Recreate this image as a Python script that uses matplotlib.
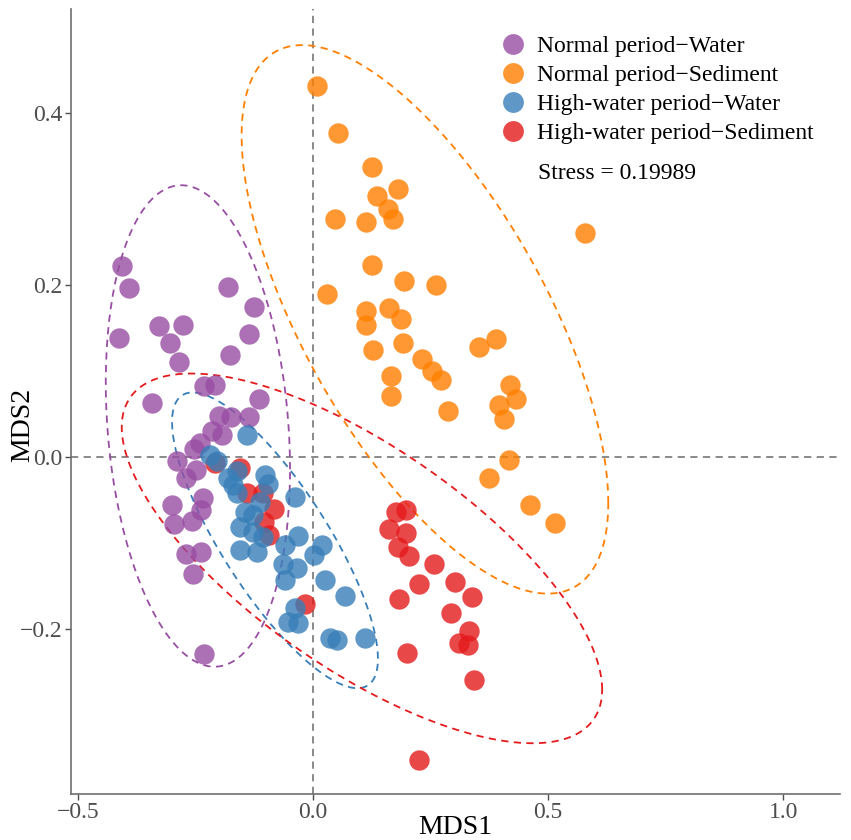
"""
NMDS ordination plot of water / sediment samples in two periods
"""

import matplotlib
matplotlib.use('Agg')
import matplotlib.pyplot as plt
from matplotlib.lines import Line2D
from matplotlib.ticker import FuncFormatter
import numpy as np

plt.rcParams['font.family'] = ['Liberation Serif', 'DejaVu Serif']

# sample scores
normal_water_x = [-0.407, -0.391, -0.181, -0.126, -0.328, -0.276, -0.304, -0.136, -0.412, -0.176,
                  -0.285, -0.233, -0.209, -0.343, -0.116, -0.201, -0.174, -0.136, -0.216, -0.193,
                  -0.240, -0.253, -0.290, -0.270, -0.249, -0.301, -0.235, -0.239, -0.295, -0.257,
                  -0.270, -0.238, -0.256, -0.233]
normal_water_y = [0.222, 0.197, 0.198, 0.174, 0.152, 0.153, 0.132, 0.143, 0.138, 0.119,
                  0.110, 0.082, 0.084, 0.063, 0.067, 0.048, 0.047, 0.047, 0.030, 0.025,
                  0.016, 0.009, -0.005, -0.024, -0.015, -0.056, -0.048, -0.062, -0.078, -0.075,
                  -0.113, -0.110, -0.136, -0.229]

normal_sed_x = [0.008, 0.053, 0.126, 0.180, 0.135, 0.159, 0.171, 0.047, 0.113, 0.579,
                0.125, 0.193, 0.262, 0.030, 0.112, 0.162, 0.187, 0.113, 0.127, 0.191,
                0.231, 0.254, 0.272, 0.165, 0.165, 0.287, 0.352, 0.389, 0.418, 0.431,
                0.395, 0.406, 0.416, 0.375, 0.462, 0.515]
normal_sed_y = [0.431, 0.377, 0.337, 0.312, 0.303, 0.288, 0.277, 0.277, 0.273, 0.261,
                0.223, 0.205, 0.200, 0.190, 0.170, 0.173, 0.161, 0.153, 0.124, 0.133,
                0.114, 0.100, 0.090, 0.094, 0.071, 0.053, 0.128, 0.137, 0.084, 0.067,
                0.060, 0.044, -0.003, -0.025, -0.056, -0.077]

high_water_x = [-0.140, -0.219, -0.204, -0.162, -0.102, -0.095, -0.170, -0.162, -0.181, -0.038,
                -0.113, -0.145, -0.127, -0.155, -0.127, -0.106, -0.155, -0.120, -0.060, -0.031,
                0.019, 0.001, -0.063, -0.035, -0.060, 0.026, 0.068, -0.038, -0.053, -0.031,
                0.036, 0.050, 0.111]
high_water_y = [0.026, 0.002, -0.005, -0.016, -0.021, -0.031, -0.033, -0.042, -0.024, -0.047,
                -0.052, -0.064, -0.067, -0.081, -0.087, -0.093, -0.108, -0.110, -0.102, -0.092,
                -0.103, -0.114, -0.124, -0.129, -0.143, -0.143, -0.162, -0.176, -0.192, -0.193,
                -0.211, -0.213, -0.211]

high_sed_x = [-0.209, -0.155, -0.141, -0.106, -0.084, -0.104, -0.094, -0.017,
              0.177, 0.198, 0.162, 0.198, 0.180, 0.205, 0.257, 0.225, 0.302, 0.338,
              0.182, 0.294, 0.331, 0.311, 0.330, 0.200, 0.343, 0.225]
high_sed_y = [-0.007, -0.013, -0.042, -0.042, -0.060, -0.076, -0.091, -0.171,
              -0.064, -0.062, -0.084, -0.089, -0.105, -0.115, -0.124, -0.148, -0.146, -0.163,
              -0.165, -0.182, -0.203, -0.216, -0.219, -0.228, -0.259, -0.352]

# 95% ellipses: centre, half extent in x / y, x-y correlation
ellipse_cx = [-0.245, 0.238, -0.081, 0.104]
ellipse_cy = [0.036, 0.160, -0.097, -0.118]
ellipse_hx = [0.196, 0.390, 0.219, 0.511]
ellipse_hy = [0.280, 0.319, 0.172, 0.215]
ellipse_rho = [-0.18, -0.67, -0.80, -0.71]

group_labels = ['Normal period\u2212Water', 'Normal period\u2212Sediment',
                'High-water period\u2212Water', 'High-water period\u2212Sediment']
group_colors = ['#984EA3', '#FF7F00', '#377EB8', '#E41A1C']
stress = 0.19989


def ellipse_path(cx, cy, hx, hy, rho, npts=200):
    """ellipse outline from its centre, x / y half extents and correlation"""
    t = np.linspace(0, 2 * np.pi, npts)
    ex = cx + hx * np.cos(t)
    ey = cy + hy * (rho * np.cos(t) + np.sqrt(1 - rho ** 2) * np.sin(t))
    return ex, ey


def minus_fmt(v, pos):
    return ('%.1f' % v).replace('-', '\u2212')


fig = plt.figure(figsize=(8.51, 8.40), dpi=100)
ax = fig.add_axes([0.0834, 0.0548, 0.9037, 0.9345])

ax.axhline(0, color='#808080', lw=1.3, ls=(0, (4, 3)), zorder=1)
ax.axvline(0, color='#808080', lw=1.3, ls=(0, (4, 3)), zorder=1)

groups = [(normal_water_x, normal_water_y), (normal_sed_x, normal_sed_y),
          (high_water_x, high_water_y), (high_sed_x, high_sed_y)]

for i, col in enumerate(group_colors):
    ex, ey = ellipse_path(ellipse_cx[i], ellipse_cy[i], ellipse_hx[i],
                          ellipse_hy[i], ellipse_rho[i])
    ax.plot(ex, ey, color=col, lw=1.3, ls=(0, (4, 3)), zorder=2)

draw_order = [0, 3, 2, 1]
for i in draw_order:
    gx, gy = groups[i]
    ax.scatter(gx, gy, s=215, color=group_colors[i], alpha=0.8, linewidths=0, zorder=3)

ax.set_xlim(-0.515, 1.121)
ax.set_ylim(-0.392, 0.521)
ax.set_xticks([-0.5, 0.0, 0.5, 1.0])
ax.set_yticks([-0.2, 0.0, 0.2, 0.4])
ax.xaxis.set_major_formatter(FuncFormatter(minus_fmt))
ax.yaxis.set_major_formatter(FuncFormatter(minus_fmt))
ax.tick_params(labelsize=17, colors='#4D4D4D', length=4.5, width=1, pad=1.5)
for side in ['top', 'right']:
    ax.spines[side].set_visible(False)
for side in ['left', 'bottom']:
    ax.spines[side].set_color('#6E6E6E')
    ax.spines[side].set_linewidth(1.2)
ax.set_xlabel('MDS1', fontsize=20)
ax.set_ylabel('MDS2', fontsize=20)
ax.xaxis.set_label_coords(0.5, -0.027)
ax.yaxis.set_label_coords(-0.046, 0.47)

handles = [Line2D([0], [0], marker='o', color='w', markerfacecolor=c, alpha=0.8,
                  markeredgewidth=0, markersize=15, label=l)
           for c, l in zip(group_colors, group_labels)]
ax.legend(handles=handles, loc='upper left', bbox_to_anchor=(0.547, 0.978), frameon=False,
          fontsize=17, handlelength=1.0, handletextpad=0.5, labelspacing=0.31,
          borderaxespad=0.0)
ax.text(0.607, 0.79, 'Stress = %.5f' % stress, transform=ax.transAxes, fontsize=17,
        va='center')

plt.savefig('out.png', dpi=100)
